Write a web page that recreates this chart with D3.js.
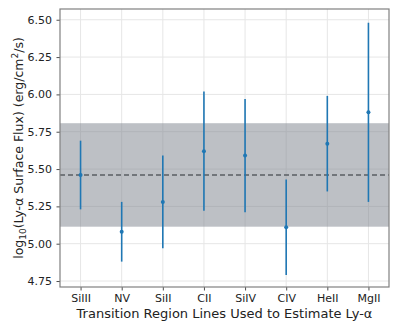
<!DOCTYPE html>
<html>
<head>
<meta charset="utf-8">
<script src="https://cdn.jsdelivr.net/npm/d3@7"></script>
<style>
  body { margin: 0; background: #fff; }
  text { font-family: "DejaVu Sans", sans-serif; fill: #222; }
</style>
</head>
<body>
<svg class="chart"></svg>
<script>
// lines used to estimate Ly-a, with log10 flux and 1-sigma error
var lines = ["SiIII", "NV", "SiII", "CII", "SiIV", "CIV", "HeII", "MgII"],
  fluxes = [5.46, 5.08, 5.28, 5.62, 5.59, 5.11, 5.67, 5.88],
  errors = [0.23, 0.20, 0.31, 0.40, 0.38, 0.32, 0.32, 0.60],
  meanFlux = [5.46],
  bandRange = [5.114, 5.807],
  yTicks = [4.75, 5.00, 5.25, 5.50, 5.75, 6.00, 6.25, 6.50];

var margin = {top: 9, right: 10, bottom: 45, left: 60},
  width = 399 - margin.left - margin.right,
  height = 332 - margin.top - margin.bottom;

var svg = d3.select(".chart")
  .attr("width", 399)
  .attr("height", 332);

var g = svg.append("g")
  .attr("transform", "translate(" + margin.left + "," + margin.top + ")");

var xScale = d3.scaleLinear()
  .domain([-0.5, lines.length - 0.5])
  .range([0, width]);

var yScale = d3.scaleLinear()
  .domain([4.71, 6.572])
  .range([height, 0]);

// grid
g.selectAll(".ygrid").data(yTicks).enter().append("line")
  .attr("x1", 0).attr("x2", width)
  .attr("y1", function(d){ return yScale(d); })
  .attr("y2", function(d){ return yScale(d); })
  .attr("stroke", "#e6e6e6").attr("stroke-width", 1);

g.selectAll(".xgrid").data(lines).enter().append("line")
  .attr("x1", function(d, i){ return xScale(i); })
  .attr("x2", function(d, i){ return xScale(i); })
  .attr("y1", 0).attr("y2", height)
  .attr("stroke", "#e6e6e6").attr("stroke-width", 1);

// shaded band around the mean
g.append("rect")
  .attr("x", 0)
  .attr("width", width)
  .attr("y", yScale(bandRange[1]))
  .attr("height", yScale(bandRange[0]) - yScale(bandRange[1]))
  .attr("fill", "#7c828b")
  .attr("fill-opacity", 0.5);

// mean line
g.selectAll(".mean").data(meanFlux).enter().append("line")
  .attr("x1", 0).attr("x2", width)
  .attr("y1", function(d){ return yScale(d); })
  .attr("y2", function(d){ return yScale(d); })
  .attr("stroke", "#5a5d63")
  .attr("stroke-width", 1.5)
  .attr("stroke-dasharray", "5,3");

// error bars
g.selectAll(".err").data(fluxes).enter().append("line")
  .attr("x1", function(d, i){ return xScale(i); })
  .attr("x2", function(d, i){ return xScale(i); })
  .attr("y1", function(d, i){ return yScale(d - errors[i]); })
  .attr("y2", function(d, i){ return yScale(d + errors[i]); })
  .attr("stroke", "#1f77b4")
  .attr("stroke-width", 1.6);

g.selectAll(".pt").data(fluxes).enter().append("circle")
  .attr("cx", function(d, i){ return xScale(i); })
  .attr("cy", function(d){ return yScale(d); })
  .attr("r", 2)
  .attr("fill", "#1f77b4");

// axes
var xAxis = g.append("g")
  .attr("transform", "translate(0," + height + ")")
  .call(d3.axisBottom(xScale)
    .tickValues(d3.range(lines.length))
    .tickFormat(function(d){ return lines[d]; })
    .tickSize(3.5).tickPadding(3.5));

var yAxis = g.append("g")
  .call(d3.axisLeft(yScale)
    .tickValues(yTicks)
    .tickFormat(d3.format(".2f"))
    .tickSize(3.5).tickPadding(4.5));

[xAxis, yAxis].forEach(function(a){
  a.select(".domain").remove();
  a.selectAll("line").attr("stroke", "#222").attr("stroke-width", 0.8);
  a.selectAll("text").attr("font-size", 11).attr("fill", "#222")
    .style("font-family", "DejaVu Sans, sans-serif");
});

// frame
g.append("rect")
  .attr("width", width).attr("height", height)
  .attr("fill", "none")
  .attr("stroke", "#808080")
  .attr("stroke-width", 1.2);

// labels
svg.append("text")
  .attr("x", margin.left + width / 2)
  .attr("y", 318)
  .attr("text-anchor", "middle")
  .attr("font-size", 13)
  .text("Transition Region Lines Used to Estimate Ly-α");

var yl = svg.append("text")
  .attr("transform", "translate(23," + (margin.top + height / 2) + ") rotate(-90)")
  .attr("text-anchor", "middle")
  .attr("font-size", 12.5);
yl.append("tspan").text("log");
yl.append("tspan").attr("font-size", 9).attr("dy", 3).text("10");
yl.append("tspan").attr("dy", -3).text("(Ly-α Surface Flux) (erg/cm");
yl.append("tspan").attr("font-size", 9).attr("dy", -5).text("2");
yl.append("tspan").attr("dy", 5).text("/s)");
</script>
</body>
</html>
